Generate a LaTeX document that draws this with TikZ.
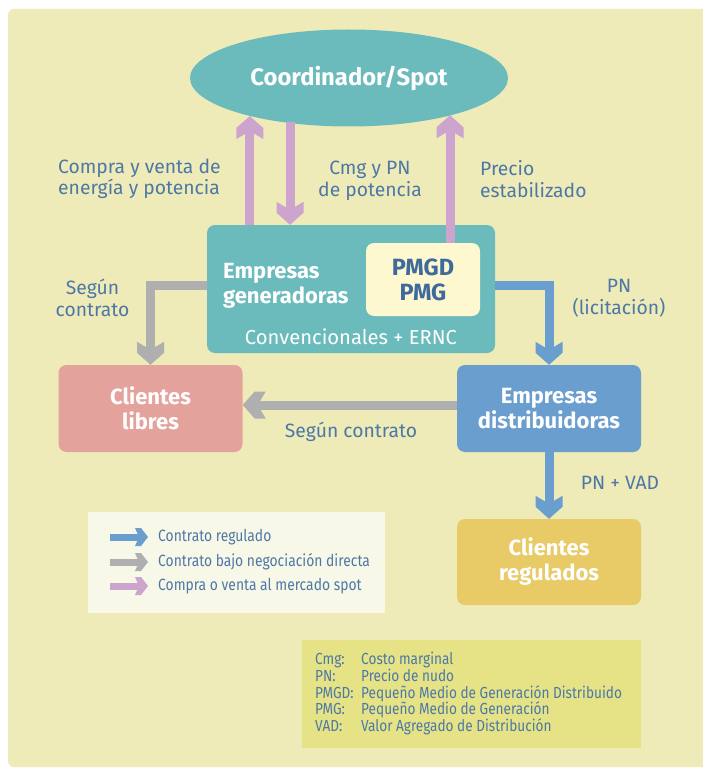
\documentclass[tikz,border=0pt]{standalone}
\usepackage{fontspec}
\setmainfont{Fira Sans}
\newfontfamily\condfont[FakeStretch=0.85]{Fira Sans}
\usetikzlibrary{shapes.geometric}

% colours
\definecolor{panel}{HTML}{EEEBB9}
\definecolor{tealbox}{HTML}{6BBBBD}
\definecolor{pmfill}{HTML}{FDF8D0}
\definecolor{pmtext}{HTML}{3E6A9C}
\definecolor{libfill}{HTML}{E4A29C}
\definecolor{distfill}{HTML}{6A9ECF}
\definecolor{regfill}{HTML}{E8CA67}
\definecolor{legfill}{HTML}{F8F8E8}
\definecolor{glosfill}{HTML}{E5E386}
\definecolor{grayflow}{HTML}{AFAFAF}
\definecolor{pinkflow}{HTML}{CDA4CD}
\definecolor{blueflow}{HTML}{6A9ECF}
\definecolor{labc}{HTML}{4D78A6}

% notched arrow head for the thick flows
\pgfdeclarearrow{
  name = Chev,
  setup code = {
    \pgfarrowssettipend{0pt}
    \pgfarrowssetlineend{-13pt}
    \pgfarrowssetbackend{-23pt}
    \pgfarrowsupperhullpoint{-23pt}{13.5pt}
    \pgfarrowsupperhullpoint{0pt}{0pt}
  },
  drawing code = {
    \pgfpathmoveto{\pgfqpoint{0pt}{0pt}}
    \pgfpathlineto{\pgfqpoint{-12pt}{13.5pt}}
    \pgfpathlineto{\pgfqpoint{-23pt}{13.5pt}}
    \pgfpathlineto{\pgfqpoint{-15pt}{0pt}}
    \pgfpathlineto{\pgfqpoint{-23pt}{-13.5pt}}
    \pgfpathlineto{\pgfqpoint{-12pt}{-13.5pt}}
    \pgfpathclose
    \pgfusepathqfill
  },
}
% smaller head for the key
\pgfdeclarearrow{
  name = ChevS,
  setup code = {
    \pgfarrowssettipend{0pt}
    \pgfarrowssetlineend{-7pt}
    \pgfarrowssetbackend{-13pt}
    \pgfarrowsupperhullpoint{-13pt}{9pt}
    \pgfarrowsupperhullpoint{0pt}{0pt}
  },
  drawing code = {
    \pgfpathmoveto{\pgfqpoint{0pt}{0pt}}
    \pgfpathlineto{\pgfqpoint{-7pt}{9pt}}
    \pgfpathlineto{\pgfqpoint{-13pt}{9pt}}
    \pgfpathlineto{\pgfqpoint{-9pt}{0pt}}
    \pgfpathlineto{\pgfqpoint{-13pt}{-9pt}}
    \pgfpathlineto{\pgfqpoint{-7pt}{-9pt}}
    \pgfpathclose
    \pgfusepathqfill
  },
}

\begin{document}
\begin{tikzpicture}[x=1pt,y=-1pt,
  lbl/.style={text=labc, font=\fontsize{19.3}{21.5}\selectfont, align=center, inner sep=0pt},
  boxlbl/.style={text=white, font=\bfseries\fontsize{22}{25}\selectfont, align=center},
  card/.style={rectangle, rounded corners=8pt, minimum width=184pt, minimum height=87pt, inner sep=0pt, boxlbl},
  flow/.style={line width=9pt, -{Chev}, line join=miter},
  keyflow/.style={line width=7pt, -{ChevS}},
  keytxt/.style={anchor=west, inner sep=0pt, text=labc, font=\condfont\fontsize{16.3}{18}\selectfont},
]
\useasboundingbox (0,0) rectangle (702,770);
\fill[white] (0,0) rectangle (702,770);
\fill[panel, rounded corners=6pt] (8,9) rectangle (720,767);

% main blocks
\node[ellipse, fill=tealbox, minimum width=318pt, minimum height=97pt, inner sep=0pt,
      text=white, font=\bfseries\fontsize{23.8}{26}\selectfont] (coord) at (349,78) {Coordinador/Spot};
\node[rectangle, rounded corners=8pt, fill=tealbox, minimum width=288pt, minimum height=128pt] (gen) at (351,289) {};
\node[boxlbl, align=left, anchor=west, inner sep=0pt] (gentxt) at (223,286) {Empresas\\generadoras};
\node[text=white, inner sep=0pt, font=\fontsize{20.2}{22}\selectfont] (genfoot) at (351,337) {Convencionales + ERNC};
\node[rectangle, rounded corners=8pt, fill=pmfill, minimum width=114pt, minimum height=73pt, inner sep=0pt,
      text=pmtext, align=center, font=\bfseries\fontsize{23.5}{25}\selectfont] (pm) at (423,279.5) {PMGD\\PMG};

\node[card, fill=libfill] (libres) at (150.5,408.5) {Clientes\\libres};
\node[card, fill=distfill] (dist) at (549,408.5) {Empresas\\distribuidoras};
\node[card, fill=regfill, minimum height=86pt] (reg) at (549,562) {Clientes\\regulados};

% flows to and from the spot market
\draw[flow, pinkflow] ([xshift=43pt]gen.north west) -- ([xshift=43pt]gen.north west |- coord.201);
\draw[flow, pinkflow] ([xshift=-59pt,yshift=-44pt]coord.center) -- ([xshift=-59pt]coord.center |- gen.north);
\draw[flow, pinkflow] ([xshift=27pt]pm.north) -- ([xshift=27pt]pm.north |- coord.-20.4);

% contract flows
\draw[flow, grayflow] ([yshift=4pt]gen.west) -| (libres.north);
\draw[flow, blueflow] ([yshift=4pt]gen.east) -| (dist.north);
\draw[flow, grayflow] ([yshift=3.5pt]dist.west) -- ([yshift=3.5pt]dist.west -| libres.east);
\draw[flow, blueflow] (dist.south) -- (reg.north);

% flow labels
\node[lbl, align=left, anchor=west] (l1) at (58,179) {Compra y venta de\\energía y potencia};
\node[lbl] (l2) at (370,181) {Cmg y PN\\de potencia};
\node[lbl, align=left, anchor=west] (l3) at (480,179) {Precio\\estabilizado};
\node[lbl] (l4) at (92.5,298) {Según\\contrato};
\node[lbl] (l5) at (619,298) {PN\\(licitación)};
\node[lbl] (l6) at (351,432) {Según contrato};
\node[lbl] (l7) at (620,483) {PN + VAD};

% key
\node[rectangle, fill=legfill, minimum width=297pt, minimum height=101pt, inner sep=0pt] (legend) at (236.5,562.5) {};
\node[keytxt] (k1) at (158,537) {Contrato regulado};
\node[keytxt] (k2) at (158,562) {Contrato bajo negociación directa};
\node[keytxt] (k3) at (158,586) {Compra o venta al mercado spot};
\draw[keyflow, blueflow] ([xshift=-48pt]k1.west) -- ([xshift=-10pt]k1.west);
\draw[keyflow, grayflow] ([xshift=-48pt]k2.west) -- ([xshift=-10pt]k2.west);
\draw[keyflow, pinkflow] ([xshift=-48pt]k3.west) -- ([xshift=-10pt]k3.west);

% abbreviations
\node[rectangle, fill=glosfill, minimum width=339pt, minimum height=108pt, inner sep=0pt] (gloss) at (471.5,694) {};
\node[anchor=north west, inner sep=0pt, align=left, text=labc, font=\condfont\fontsize{16}{16.7}\selectfont] (glosstxt) at (315,652)
  {\makebox[46pt][l]{Cmg:}Costo marginal\\
   \makebox[46pt][l]{PN:}Precio de nudo\\
   \makebox[46pt][l]{PMGD:}Pequeño Medio de Generación Distribuido\\
   \makebox[46pt][l]{PMG:}Pequeño Medio de Generación\\
   \makebox[46pt][l]{VAD:}Valor Agregado de Distribución};
\end{tikzpicture}
\end{document}
